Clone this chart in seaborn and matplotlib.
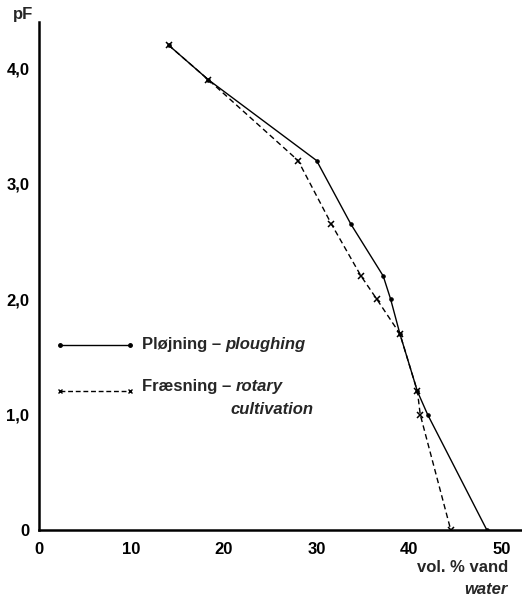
import matplotlib
matplotlib.use("Agg")
import matplotlib.pyplot as plt
import seaborn as sns
import pandas as pd

# Data
plough_water = [14.0, 18.3, 30.0, 33.7, 37.2, 38.0, 39.0, 40.9, 42.0, 48.4]
plough_pf = [4.2, 3.9, 3.2, 2.65, 2.2, 2.0, 1.7, 1.2, 1.0, 0.0]
rotary_water = [14.0, 18.3, 28.0, 31.6, 34.8, 36.5, 39.0, 40.9, 41.2, 44.5]
rotary_pf = [4.2, 3.9, 3.2, 2.65, 2.2, 2.0, 1.7, 1.2, 1.0, 0.0]
x_ticks = [0, 10, 20, 30, 40, 50]
y_ticks = [0, 1, 2, 3, 4]
y_ticklabels = ["0", "1,0", "2,0", "3,0", "4,0"]

sns.set_style("white")
plt.rcParams["font.family"] = ["Liberation Sans", "DejaVu Sans"]
FS = 12

fig = plt.figure(figsize=(5.22, 5.96), dpi=100)
ax = fig.add_axes([39 / 522, 1 - 530 / 596, 483 / 522, 508 / 596])

df_p = pd.DataFrame({"water": plough_water, "pF": plough_pf})
df_r = pd.DataFrame({"water": rotary_water, "pF": rotary_pf})
sns.lineplot(data=df_p, x="water", y="pF", sort=False, estimator=None, ax=ax,
             color="black", linewidth=1.0, marker="o", markersize=2.5,
             markeredgecolor="black", markerfacecolor="black")
sns.lineplot(data=df_r, x="water", y="pF", sort=False, estimator=None, ax=ax,
             color="black", linewidth=1.0, linestyle=(0, (4, 2.5)), marker="x",
             markersize=4.5, markeredgewidth=1.1, markeredgecolor="black")

ax.set_xlim(0, 52.2)
ax.set_ylim(0, 4.4)
ax.set_xticks(x_ticks)
ax.set_xticklabels([str(v) for v in x_ticks])
ax.set_yticks(y_ticks)
ax.set_yticklabels(y_ticklabels)
ax.set_xlabel("")
ax.set_ylabel("")
for s in ["top", "right"]:
    ax.spines[s].set_visible(False)
for s in ["left", "bottom"]:
    ax.spines[s].set_linewidth(1.8)
    ax.spines[s].set_color("black")
ax.tick_params(axis="both", direction="out", length=3, width=1.2, colors="black",
               labelsize=FS)
ax.tick_params(axis="y", pad=4)
ax.tick_params(axis="x", pad=6)
for lab in ax.get_xticklabels() + ax.get_yticklabels():
    lab.set_fontweight("bold")

# axis titles
fig.text(23 / 522, 1 - 15 / 596, "pF", fontsize=FS, fontweight="bold",
         ha="center", va="center")
fig.text(508 / 522, 1 - 568 / 596, "vol. % vand", fontsize=FS, fontweight="bold",
         ha="right", va="center")
fig.text(508 / 522, 1 - 589 / 596, "water", fontsize=FS, fontweight="bold",
         style="italic", ha="right", va="center")

# manual legend
x0, x1 = (60 - 39) / 483, (130 - 39) / 483
y1 = (530 - 345) / 508
y2 = (530 - 391) / 508
ax.plot([x0, x1], [y1, y1], transform=ax.transAxes, color="black", lw=1.0,
        marker="o", markersize=2.5)
ax.plot([x0, x1], [y2, y2], transform=ax.transAxes, color="black", lw=1.0,
        linestyle=(0, (3.5, 2)), marker="x", markersize=3.5)

fig.canvas.draw()
renderer = fig.canvas.get_renderer()


def pair(x, y, plain, ital):
    t = ax.text(x, y, plain, transform=ax.transAxes, fontsize=FS,
                fontweight="bold", ha="left", va="center")
    bb = t.get_window_extent(renderer=renderer)
    xa = ax.transAxes.inverted().transform((bb.x1 + 4, 0))[0]
    ax.text(xa, y, ital, transform=ax.transAxes, fontsize=FS,
            fontweight="bold", style="italic", ha="left", va="center")


tx = (142 - 39) / 483
pair(tx, y1, "Pløjning –", "ploughing")
pair(tx, (530 - 387) / 508, "Fræsning –", "rotary")
ax.text((313 - 39) / 483, (530 - 409) / 508, "cultivation", transform=ax.transAxes,
        fontsize=FS, fontweight="bold", style="italic", ha="right", va="center")

fig.savefig("out.png", dpi=100)
